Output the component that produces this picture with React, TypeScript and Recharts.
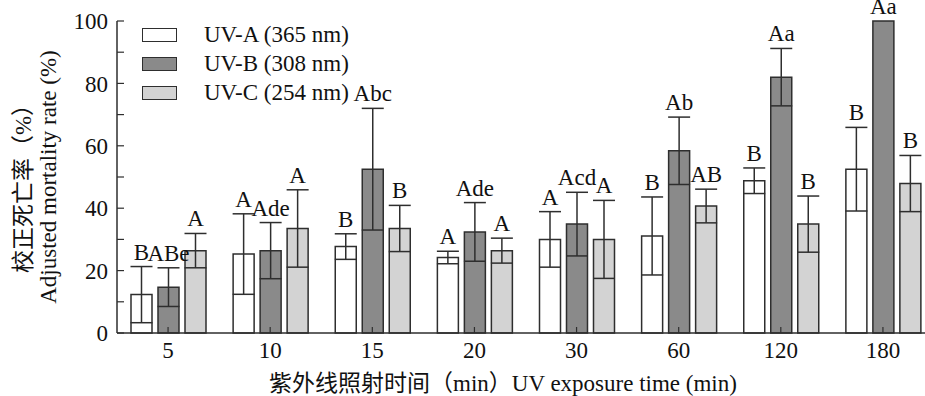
import { BarChart, Bar, XAxis, YAxis, ErrorBar, LabelList, Legend } from "recharts";

const categories = ["5", "10", "15", "20", "30", "60", "120", "180"];

const uvA = [12.3, 25.3, 27.7, 24.2, 30.0, 31.1, 48.8, 52.5];
const uvAErr = [9.0, 12.9, 4.1, 2.0, 8.9, 12.5, 4.1, 13.4];
const uvALetters = ["B", "A", "B", "A", "A", "B", "B", "B"];

const uvB = [14.7, 26.4, 52.5, 32.4, 34.9, 58.4, 82.0, 100];
const uvBErr = [6.2, 9.0, 19.5, 9.4, 10.2, 10.8, 9.2, 0];
const uvBLetters = ["ABe", "Ade", "Abc", "Ade", "Acd", "Ab", "Aa", "Aa"];

const uvC = [26.4, 33.5, 33.5, 26.4, 30.0, 40.7, 34.9, 47.9];
const uvCErr = [5.5, 12.4, 7.4, 4.0, 12.5, 5.4, 9.0, 9.0];
const uvCLetters = ["A", "A", "B", "A", "A", "AB", "B", "B"];

const yTicks = [0, 10, 20, 30, 40, 50, 60, 70, 80, 90, 100];

const series = [
  { key: "a", name: "UV-A (365 nm)", fill: "#ffffff", values: uvA, errs: uvAErr },
  { key: "b", name: "UV-B (308 nm)", fill: "#8a8a8a", values: uvB, errs: uvBErr },
  { key: "c", name: "UV-C (254 nm)", fill: "#d3d3d3", values: uvC, errs: uvCErr },
];

const data = categories.map((t, i) => ({
  time: t,
  a: uvA[i], aErr: uvAErr[i], aLbl: uvALetters[i],
  b: uvB[i], bErr: uvBErr[i], bLbl: uvBLetters[i],
  c: uvC[i], cErr: uvCErr[i], cLbl: uvCLetters[i],
}));

const INK = "#2e2e2e";
const FONT = "'Liberation Serif', 'Noto Sans CJK SC', serif";
const FS = 23;

// letter sits just above the top of the error bar
const letterLabel = (values: number[], errs: number[]) => (props: any) => {
  const { x, y, width, height, value, index } = props;
  const v = values[index];
  const perUnit = v ? height / v : 0;
  const top = y - errs[index] * perUnit;
  return (
    <text x={x + width / 2} y={top - 7} textAnchor="middle" fontSize={FS} fontFamily={FONT} fill="#111">
      {value}
    </text>
  );
};

const renderLegend = () => (
  <div style={{ fontFamily: FONT, fontSize: FS, color: "#111" }}>
    {series.map((s) => (
      <div key={s.key} style={{ display: "flex", alignItems: "center", height: 29 }}>
        <div style={{ width: 33, height: 12, background: s.fill, border: `1.5px solid ${INK}`, marginRight: 27 }} />
        <span>{s.name}</span>
      </div>
    ))}
  </div>
);

const yLabel = (props: any) => {
  const { viewBox } = props;
  const cy = viewBox.y + viewBox.height / 2;
  return (
    <g fontFamily={FONT} fill="#111">
      <text x={23} y={cy + 6} transform={`rotate(-90 23 ${cy + 6})`} textAnchor="middle" dominantBaseline="central" fontSize={FS}>
        校正死亡率（%）
      </text>
      <text x={48} y={cy} transform={`rotate(-90 48 ${cy})`} textAnchor="middle" dominantBaseline="central" fontSize={FS}>
        Adjusted mortality rate (%)
      </text>
    </g>
  );
};

const xLabel = () => (
  <text x={503} y={383} textAnchor="middle" dominantBaseline="central" fontSize={FS} fontFamily={FONT} fill="#111">
    紫外线照射时间（min）UV exposure time (min)
  </text>
);

export default function App() {
  return (
    <div style={{ position: "absolute", left: 0, top: 0, width: 925, height: 396, overflow: "hidden", background: "#fff" }}>
      <BarChart
        width={940}
        height={396}
        data={data}
        margin={{ top: 21, right: 6, bottom: 0, left: 0 }}
        barCategoryGap="13%"
        barGap={6}
        barSize={21}
      >
        <XAxis
          dataKey="time"
          height={63}
          axisLine={{ stroke: INK, strokeWidth: 1.5 }}
          tickLine={{ stroke: INK, strokeWidth: 1.2 }}
          tickSize={-6}
          tickMargin={15}
          tick={{ fontSize: FS, fontFamily: FONT, fill: "#111" }}
          label={xLabel}
        />
        <YAxis
          width={117}
          domain={[0, 100]}
          ticks={yTicks}
          interval={0}
          axisLine={{ stroke: INK, strokeWidth: 1.5 }}
          tickLine={{ stroke: INK, strokeWidth: 1.2 }}
          tickSize={-7}
          tickMargin={16}
          tickFormatter={(v: number) => (v % 20 === 0 ? String(v) : "")}
          tick={{ fontSize: FS, fontFamily: FONT, fill: "#111" }}
          label={yLabel}
        />
        <Legend
          layout="horizontal"
          verticalAlign="middle"
          align="center"
          content={renderLegend}
          wrapperStyle={{ top: 20, left: 142, width: 270 }}
        />
        {series.map((s) => (
          <Bar
            key={s.key}
            dataKey={s.key}
            name={s.name}
            fill={s.fill}
            stroke={INK}
            strokeWidth={1.5}
            isAnimationActive={false}
          >
            <ErrorBar dataKey={`${s.key}Err`} width={11} stroke={INK} strokeWidth={1.5} direction="y" isAnimationActive={false} />
            <LabelList dataKey={`${s.key}Lbl`} content={letterLabel(s.values, s.errs)} />
          </Bar>
        ))}
      </BarChart>
    </div>
  );
}
